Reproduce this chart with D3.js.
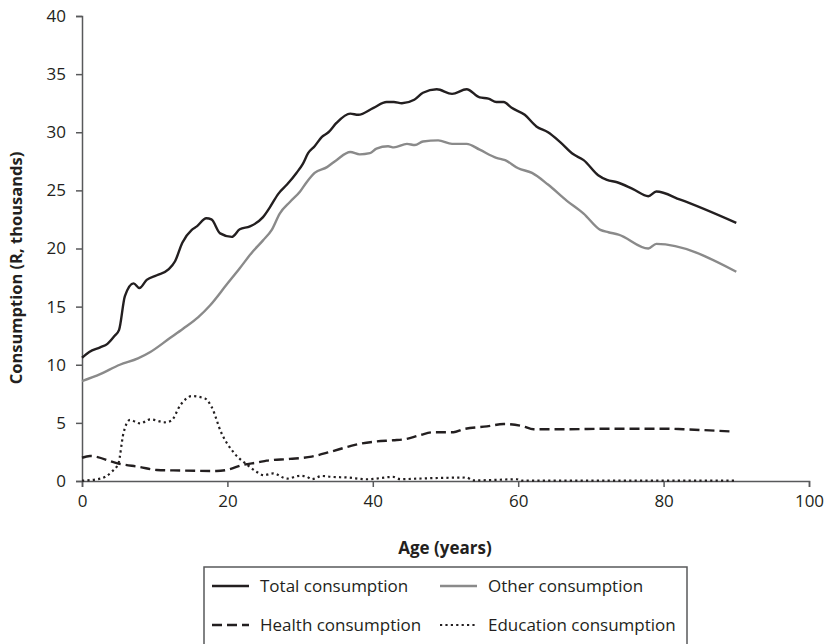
<!DOCTYPE html>
<html><head><meta charset="utf-8">
<script src="https://cdn.jsdelivr.net/npm/d3@7/dist/d3.min.js"></script>
<style>
body{margin:0;background:#fff;}
svg text{font-family:"Open Sans","Noto Sans",sans-serif;fill:#231f20;}
</style></head>
<body><svg id="c" width="829" height="644"></svg>
<script>
// ---- data (age in years, consumption in R thousands) ----
const totalAges = [0,1,2.5,3.5,4.5,5.1,5.9,7.1,7.9,8.9,10.3,11.9,12.8,13.8,15.1,15.8,17.1,17.8,19.0,20.6,21.7,23.1,24.9,25.9,27.0,28.2,29.5,30.4,31.1,32.0,33.0,33.9,35.0,36.9,38.0,40.1,41.9,42.9,44.0,45.7,46.9,48.8,50.9,52.9,54.7,55.9,57.0,58.0,59.1,60.9,62.5,64.1,65.7,67.6,69.0,71.0,72.2,73.6,75.8,77.9,79.0,82.3,90];
const totalValues = [10.6,11.1,11.5,11.8,12.5,13.0,15.9,17.0,16.6,17.3,17.7,18.2,18.9,20.5,21.6,21.9,22.6,22.5,21.3,21.0,21.65,21.9,22.7,23.6,24.7,25.5,26.5,27.3,28.2,28.8,29.6,30.0,30.8,31.6,31.5,32.1,32.6,32.6,32.5,32.8,33.4,33.7,33.3,33.7,33.0,32.9,32.6,32.6,32.1,31.5,30.5,30.0,29.2,28.1,27.6,26.3,25.9,25.7,25.1,24.5,24.9,24.2,22.2];

const otherAges = [0,2.5,5.2,7.7,9.4,12.1,13.9,16.0,17.6,19.9,21.7,23.3,24.9,26.1,27.2,28.6,30.0,30.9,32.0,33.7,35.0,36.9,38.2,39.6,40.5,42.1,42.9,44.7,45.8,46.9,49.0,50.9,52.9,54.7,57.0,58.2,60.0,61.9,64.1,66.7,69.0,71.3,72.4,73.8,77.9,79.0,90];
const otherValues = [8.6,9.2,10.0,10.55,11.1,12.3,13.1,14.1,15.1,16.9,18.3,19.6,20.7,21.6,23.0,24.0,24.9,25.7,26.5,27.0,27.6,28.3,28.1,28.2,28.6,28.8,28.7,29.0,28.9,29.2,29.3,29.0,29.0,28.5,27.8,27.6,26.9,26.5,25.5,24.1,23.0,21.6,21.4,21.2,20.0,20.4,18.0];

const healthAges = [0,1.1,5.0,8.0,10.3,13.5,18.5,19.9,22.2,24.2,25.4,28.6,31.6,34.1,36.9,38.2,40.5,42.8,44.5,46.5,48.3,51.1,52.4,55.7,58.0,60.7,62.1,65.9,73.1,80.4,82.7,89.6];
const healthValues = [2.0,2.15,1.5,1.2,0.95,0.9,0.86,0.95,1.4,1.6,1.75,1.9,2.1,2.5,3.0,3.2,3.4,3.5,3.6,3.95,4.2,4.2,4.45,4.7,4.9,4.7,4.45,4.45,4.5,4.5,4.45,4.25];

const eduAges = [0,2.5,4.1,5.0,5.7,6.6,8.0,9.4,11.4,12.3,13.5,15.1,16.9,17.8,19.2,20.8,22.7,24.0,25.0,26.3,28.2,30.0,30.9,31.6,33.0,34.4,36.5,39.2,42.8,43.8,46.0,48.5,52.9,53.8,57,59.8,60.5,65,70,80,90];
const eduValues = [0.03,0.2,0.8,1.5,4.1,5.25,4.95,5.3,5.05,5.2,6.5,7.3,7.1,6.4,4.1,2.5,1.4,0.8,0.5,0.65,0.2,0.45,0.37,0.15,0.43,0.35,0.3,0.15,0.35,0.15,0.2,0.25,0.3,0.05,0.1,0.15,0.03,0.03,0.03,0.03,0.03];

const xTicks = [0,20,40,60,80,100];
const yTicks = [0,5,10,15,20,25,30,35,40];
const seriesNames = ["Total consumption","Other consumption","Health consumption","Education consumption"];

// ---- layout ----
const svg = d3.select("#c");
const mLeft = 82, mRight = 809, mTop = 16, mBottom = 481;
const x = d3.scaleLinear().domain([0,100]).range([mLeft,mRight]);
const y = d3.scaleLinear().domain([0,40]).range([mBottom,mTop]);
const axisColor = "#58595b";

const styles = [
  {color:"#231f20", width:2.4, dash:null},
  {color:"#8a8a8a", width:2.4, dash:null},
  {color:"#231f20", width:2.4, dash:"10,5"},
  {color:"#231f20", width:2.2, dash:"2.2,3.2"}
];
const series = [
  {ages: totalAges, values: totalValues},
  {ages: otherAges, values: otherValues},
  {ages: healthAges, values: healthValues},
  {ages: eduAges, values: eduValues}
];

// axes
const xAxis = svg.append("g").attr("transform",`translate(0,${mBottom})`)
  .call(d3.axisBottom(x).tickValues(xTicks).tickSize(6).tickPadding(8).tickFormat(d3.format("d")));
const yAxis = svg.append("g").attr("transform",`translate(${mLeft},0)`)
  .call(d3.axisLeft(y).tickValues(yTicks).tickSize(6).tickPadding(10).tickFormat(d3.format("d")));
[xAxis,yAxis].forEach(g=>{
  g.select(".domain").attr("stroke",axisColor).attr("stroke-width",1.5);
  g.selectAll(".tick line").attr("stroke",axisColor).attr("stroke-width",1.5);
  g.selectAll(".tick text").style("font-size","17px").attr("fill","#231f20");
});

// lines
const line = d3.line().x(d=>x(d[0])).y(d=>y(d[1])).curve(d3.curveMonotoneX);
const order = [1,0,2,3];
order.forEach(i=>{
  const s = series[i], st = styles[i];
  const pts = s.ages.map((a,k)=>[a,s.values[k]]);
  svg.append("path").datum(pts).attr("d",line)
    .attr("fill","none").attr("stroke",st.color).attr("stroke-width",st.width)
    .attr("stroke-dasharray",st.dash).attr("stroke-linejoin","round");
});

// axis titles
svg.append("text").attr("x",445).attr("y",554).attr("text-anchor","middle")
  .style("font-size","17px").style("font-weight","bold").text("Age (years)");
svg.append("text").attr("transform","translate(22,268) rotate(-90)").attr("text-anchor","middle")
  .style("font-size","16.5px").style("font-weight","bold").text("Consumption (R, thousands)");

// legend
svg.append("rect").attr("x",204).attr("y",567).attr("width",483).attr("height",90)
  .attr("fill","none").attr("stroke",axisColor).attr("stroke-width",1.5);
const legPos = [[212,586],[440,586],[212,625],[440,625]];
seriesNames.forEach((n,i)=>{
  const [lx,ly] = legPos[i], st = styles[i];
  svg.append("line").attr("x1",lx).attr("x2",lx+37).attr("y1",ly).attr("y2",ly)
    .attr("stroke",st.color).attr("stroke-width",st.width).attr("stroke-dasharray",st.dash);
  svg.append("text").attr("x",lx+48).attr("y",ly).attr("dy","0.35em")
    .style("font-size","17px").text(n);
});
</script></body></html>
